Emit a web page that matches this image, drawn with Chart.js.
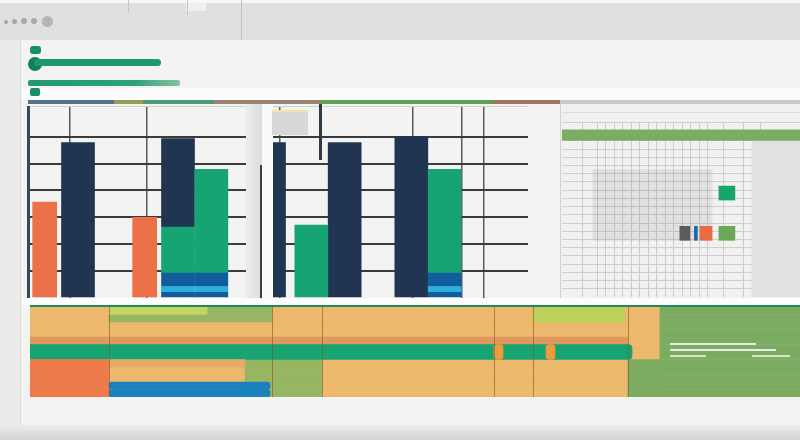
<!DOCTYPE html>
<html>
<head>
<meta charset="utf-8">
<script src="https://cdn.jsdelivr.net/npm/chart.js@4/dist/chart.umd.min.js"></script>
<style>
html, body { margin: 0; padding: 0; }
body { width: 800px; height: 440px; position: relative; overflow: hidden; background: #f3f3f1; font-family: "Noto Sans", sans-serif; }
.abs { position: absolute; }
.dot { position: absolute; border-radius: 50%; background: #a8a8a8; }
canvas { position: absolute; display: block; }
</style>
</head>
<body>

<!-- window chrome -->
<div class="abs" style="left:0;top:0;width:800px;height:40px;background:#e0e0e0;border-top:3px solid #f7f7f7;box-sizing:border-box;"></div>
<div class="dot" style="left:4px;top:20px;width:4px;height:4px;"></div>
<div class="dot" style="left:12px;top:19px;width:5px;height:5px;"></div>
<div class="dot" style="left:21px;top:18px;width:6px;height:6px;"></div>
<div class="dot" style="left:31px;top:18px;width:6px;height:6px;"></div>
<div class="dot" style="left:42px;top:16px;width:11px;height:11px;background:#b5b5b5;"></div>
<div class="abs" style="left:128px;top:0;width:1px;height:12px;background:#c6c6c6;"></div>
<div class="abs" style="left:186px;top:3px;width:20px;height:8px;background:#efefef;"></div>
<div class="abs" style="left:187px;top:0;width:1px;height:15px;background:#c6c6c6;"></div>
<div class="abs" style="left:241px;top:0;width:1px;height:40px;background:#bdbdbd;"></div>
<div class="abs" style="left:0;top:40px;width:20px;height:385px;background:#ebebea;border-right:1px solid #dadada;"></div>

<!-- green header marks -->
<div class="abs" style="left:30px;top:46px;width:11px;height:8px;border-radius:3px;background:#17906a;"></div>
<div class="abs" style="left:28px;top:57px;width:14px;height:14px;border-radius:50%;background:#137f5e;"></div>
<div class="abs" style="left:34px;top:59px;width:127px;height:7px;border-radius:4px;background:#1a9a6e;"></div>
<div class="abs" style="left:28px;top:80px;width:152px;height:6px;border-radius:2px;background:linear-gradient(90deg,#23996f,#2ea07a 70%,#84c3a4);"></div>

<!-- card top -->
<div class="abs" style="left:22px;top:88px;width:778px;height:12px;background:#fbfbfb;"></div>
<div class="abs" style="left:30px;top:88px;width:10px;height:8px;border-radius:2px;background:#17906a;"></div>
<div class="abs" style="left:28px;top:100px;width:772px;height:4px;background:linear-gradient(90deg,#566f87 0,#566f87 86px,#9c9a52 86px,#9c9a52 115px,#4e9a78 115px,#4e9a78 186px,#9a8672 186px,#9a8672 293px,#5ca152 293px,#5ca152 465px,#a07464 465px,#a07464 532px,#c9c9c9 532px);"></div>

<!-- main bar chart -->
<canvas id="mainChart" width="502" height="192" style="left:26px;top:106px;background:#f3f3f2;"></canvas>
<div class="abs" style="left:246px;top:104px;width:16px;height:194px;background:linear-gradient(90deg,#ececec,#dcdcdc);"></div>
<div class="abs" style="left:262px;top:104px;width:11px;height:194px;background:#fafafa;"></div>
<div class="abs" style="left:260px;top:165px;width:2px;height:133px;background:#3d3d3d;"></div>
<div class="abs" style="left:272px;top:110px;width:36px;height:23px;background:#d8d8d8;border-top:2px solid #efe3a6;"></div>
<div class="abs" style="left:319px;top:104px;width:3px;height:56px;background:#2e3a46;"></div>

<!-- right table panel -->
<div class="abs" style="left:560px;top:104px;width:240px;height:194px;background:#f1f1f1;border-left:1px solid #d3d3d3;box-sizing:border-box;"></div>
<div class="abs" style="left:562px;top:112px;width:238px;height:1px;background:#dcdcdc;"></div>
<canvas id="tableChart" width="238" height="175" style="left:562px;top:122px;"></canvas>

<!-- timeline panel -->
<div class="abs" style="left:22px;top:298px;width:778px;height:7px;background:#fdfdfd;"></div>
<div class="abs" style="left:30px;top:305px;width:770px;height:2px;background:#1f8c57;"></div>
<canvas id="timeChart" width="770" height="90" style="left:30px;top:307px;"></canvas>
<div class="abs" style="left:670px;top:343px;width:86px;height:2px;background:rgba(255,255,255,0.8);"></div>
<div class="abs" style="left:670px;top:349px;width:106px;height:2px;background:rgba(255,255,255,0.8);"></div>
<div class="abs" style="left:670px;top:355px;width:36px;height:2px;background:rgba(255,255,255,0.7);"></div>
<div class="abs" style="left:752px;top:355px;width:38px;height:2px;background:rgba(255,255,255,0.7);"></div>

<div class="abs" style="left:0;top:425px;width:800px;height:15px;background:linear-gradient(#ececec,#d3d3d3);"></div>

<script>
// ---- main bar chart data (15 column slots, stacked) ----
const slots = ['c01', 'c02', 'c03', 'c04', 'c05', 'c06', 'c07', 'c08', 'c09', 'c10', 'c11', 'c12', 'c13', 'c14', 'c15'];
const orangeVals    = [50, null, null, 42, null, null, null, null, null, null, null, null, null, null, null];
const navyVals      = [null, 81, null, null, 46, null, null, null, null, 81, null, 84, null, null, null];
const navyThinVals  = [null, null, null, null, null, null, null, 81, null, null, null, null, null, null, null];
const greenVals     = [null, null, null, null, 24, 54, null, null, 38, null, null, null, 54, null, null];
const blueLowVals   = [null, null, null, null, 3, 3, null, null, null, null, null, null, 3, null, null];
const blueLightVals = [null, null, null, null, 3, 3, null, null, null, null, null, null, 3, null, null];
const blueHighVals  = [null, null, null, null, 7, 7, null, null, null, null, null, null, 7, null, null];
const cellEdges = [1.14, 4.02, 11.1, 14.0, 14.8];

// ---- right table panel ----
const headerRow  = [{ x: 14.35, y: [-1.35, 0] }];
const sideShade  = [{ x: 25.5, y: [0, 19] }];
const darkBlock  = [{ x: 11, y: [3.5, 12.1] }];
const greenCells = [{ x: 19.75, y: [5.5, 7.2] }];
const grayCells  = [{ x: 14.8, y: [10.4, 12.1] }];
const blueCells  = [{ x: 16.1, y: [10.4, 12.1] }];
const redCells   = [{ x: 17.3, y: [10.4, 12.1] }];
const oliveCells = [{ x: 19.75, y: [10.4, 12.1] }];
const colEdges = [1.5, 4, 5, 6, 7, 8, 9, 10, 11, 12, 13, 14, 15, 16, 17, 18, 20.7, 22.7];

// ---- timeline panel (12 thin rows, floating ranges) ----
const rows = ['t01', 't02', 't03', 't04', 't05', 't06', 't07', 't08', 't09', 't10', 't11', 't12'];
const tanRanges    = [[30, 660], [30, 660], [30, 660], [30, 660], [30, 660], [30, 660], [30, 660], [30, 660], [30, 660], [30, 660], [30, 660], [30, 660]];
const fieldRanges  = [[660, 800], [660, 800], [660, 800], [660, 800], [660, 800], [660, 800], [660, 800], [628, 800], [628, 800], [628, 800], [628, 800], [628, 800]];
const oliveRanges  = [[207, 272], [109, 272], null, null, null, null, null, [245, 322], [245, 322], [245, 322], [245, 322], [245, 322]];
const limeRanges   = [[109, 207], null, null, null, null, null, null, null, null, null, null, null];
const lime2Ranges  = [[533, 625], [533, 625], null, null, null, null, null, null, null, null, null, null];
const stripeRanges = [null, null, null, null, [30, 628], null, null, null, null, null, null, null];
const bandRanges   = [null, null, null, null, null, [30, 632], [30, 632], null, null, null, null, null];
const dotARanges   = [null, null, null, null, null, [494, 503], [494, 503], null, null, null, null, null];
const dotBRanges   = [null, null, null, null, null, [546, 555], [546, 555], null, null, null, null, null];
const tanTopRanges = [null, null, null, null, null, null, null, [109, 245], null, null, null, null];
const orangeRanges = [null, null, null, null, null, null, null, [30, 109], [30, 109], [30, 109], [30, 109], [30, 109]];
const blueRanges   = [null, null, null, null, null, null, null, null, null, null, [109, 270], [109, 270]];
const dividers = [109, 272, 322, 494, 533, 628];

const hiddenTicks = { display: false };
// upper half of a two-row shape rounds its top corners, lower half its bottom ones
const halfRound = r => ctx => ctx.dataIndex === 5 ? { topLeft: r, topRight: r } : { bottomLeft: r, bottomRight: r };

new Chart('mainChart', {
    type: 'bar',
    data: {
        labels: slots,
        datasets: [
            { data: blueLowVals, backgroundColor: '#115d9c', barThickness: 33 },
            { data: blueLightVals, backgroundColor: '#2bb0de', barThickness: 33 },
            { data: blueHighVals, backgroundColor: '#115d9c', barThickness: 33 },
            { data: greenVals, backgroundColor: '#16a472', barThickness: 33 },
            { data: navyVals, backgroundColor: '#1f3551', barThickness: 33 },
            { data: navyThinVals, backgroundColor: '#1f3551', barThickness: 15 },
            { data: orangeVals, backgroundColor: '#ec7148', barThickness: 24 }
        ]
    },
    options: {
        responsive: false,
        animation: false,
        layout: { padding: { left: 2 } },
        plugins: { legend: { display: false }, tooltip: { enabled: false } },
        scales: {
            x: { stacked: true, display: false },
            x2: {
                type: 'linear', position: 'bottom', min: 0, max: 15,
                ticks: hiddenTicks, border: { display: false },
                grid: { drawTicks: false, color: '#5a5a5a', lineWidth: 1.5 },
                afterBuildTicks: axis => { axis.ticks = cellEdges.map(v => ({ value: v })); }
            },
            y: {
                stacked: true, min: 0, max: 100,
                ticks: { display: false, stepSize: 14 },
                border: { display: true, color: '#34495e', width: 3 },
                grid: {
                    drawTicks: false, lineWidth: 2,
                    color: ctx => ctx.tick.value === 0 ? 'rgba(0,0,0,0)' : (ctx.tick.value === 100 ? '#d2d2d2' : '#3b3b3b')
                }
            }
        }
    }
});

// first dataset is painted on top, so the cells come first
new Chart('tableChart', {
    type: 'bar',
    data: {
        datasets: [
            { data: greenCells, backgroundColor: '#17a56f', barThickness: 16, grouped: false },
            { data: grayCells, backgroundColor: '#5b5b5b', barThickness: 10, grouped: false },
            { data: blueCells, backgroundColor: '#1768a8', barThickness: 3, grouped: false },
            { data: redCells, backgroundColor: '#eb6a42', barThickness: 12, grouped: false },
            { data: oliveCells, backgroundColor: '#6aa95a', barThickness: 16, grouped: false },
            { data: headerRow, backgroundColor: '#79ad62', barThickness: 238, grouped: false },
            { data: darkBlock, backgroundColor: 'rgba(0,0,0,0.07)', barThickness: 119, grouped: false },
            { data: sideShade, backgroundColor: '#e2e2e2', barThickness: 48, grouped: false }
        ]
    },
    options: {
        responsive: false,
        animation: false,
        plugins: { legend: { display: false }, tooltip: { enabled: false } },
        scales: {
            x: {
                type: 'linear', min: 0.35, max: 28.35, offset: false,
                ticks: hiddenTicks, border: { display: false },
                grid: { drawTicks: false, color: '#cdcdcd' },
                afterBuildTicks: axis => { axis.ticks = colEdges.map(v => ({ value: v })); }
            },
            y: {
                type: 'linear', min: -2.3, max: 19, reverse: true,
                ticks: { display: false, stepSize: 1 }, border: { display: false },
                grid: { drawTicks: false, color: '#cfcfcf' }
            }
        }
    }
});

new Chart('timeChart', {
    type: 'bar',
    data: {
        labels: rows,
        datasets: [
            { data: dotARanges, backgroundColor: '#f29a3a', borderSkipped: false, borderRadius: halfRound(4) },
            { data: dotBRanges, backgroundColor: '#f29a3a', borderSkipped: false, borderRadius: halfRound(4) },
            { data: blueRanges, backgroundColor: '#1a81bf', borderSkipped: false, borderRadius: 3 },
            { data: orangeRanges, backgroundColor: '#ee7b4c' },
            { data: tanTopRanges, backgroundColor: '#e5a968' },
            { data: bandRanges, backgroundColor: '#17a472', borderRadius: ctx => ctx.dataIndex === 5 ? { topRight: 6 } : { bottomRight: 6 } },
            { data: stripeRanges, backgroundColor: '#df995e' },
            { data: lime2Ranges, backgroundColor: '#bdd05a' },
            { data: limeRanges, backgroundColor: '#c4d461' },
            { data: oliveRanges, backgroundColor: '#97b663' },
            { data: fieldRanges, backgroundColor: '#7cac61' },
            { data: tanRanges, backgroundColor: '#ebb86c' }
        ]
    },
    options: {
        indexAxis: 'y',
        responsive: false,
        animation: false,
        datasets: { bar: { grouped: false, barPercentage: 1, categoryPercentage: 1 } },
        plugins: { legend: { display: false }, tooltip: { enabled: false } },
        scales: {
            x: {
                type: 'linear', min: 30, max: 800,
                ticks: hiddenTicks, border: { display: false },
                grid: { drawTicks: false, color: 'rgba(140,85,35,0.6)', z: 1 },
                afterBuildTicks: axis => { axis.ticks = dividers.map(v => ({ value: v })); }
            },
            y: { display: false }
        }
    }
});
</script>
</body>
</html>
